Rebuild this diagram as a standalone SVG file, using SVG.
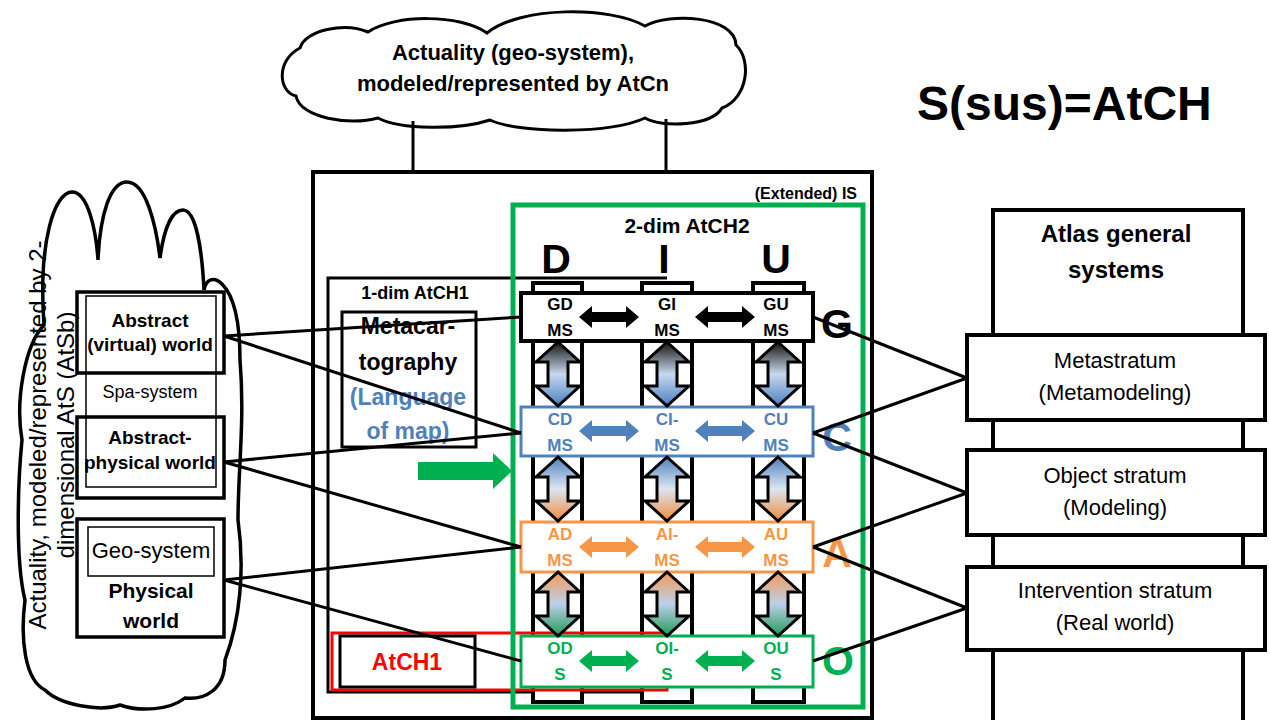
<svg xmlns="http://www.w3.org/2000/svg" width="1270" height="720" viewBox="0 0 1270 720">
<defs>
<style>
text{font-family:"Liberation Sans",Arial,sans-serif;}
.b{font-weight:bold;}
.big{font-size:41px;font-weight:bold;text-anchor:middle;}
.box{stroke:#000;fill:#fff;}
.conn line{stroke:#000;stroke-width:3;}
.mid{text-anchor:middle;}
.blue{fill:#4F81BD;}
.orange{fill:#F79646;}
.green{fill:#00B050;}
.va{stroke:#000;stroke-width:3;stroke-linejoin:miter;}
</style>
<linearGradient id="gGC" x1="0" y1="0" x2="0" y2="1">
<stop offset="0" stop-color="#111"/><stop offset="0.5" stop-color="#c8d8ee"/><stop offset="1" stop-color="#4a7ebf"/>
</linearGradient>
<linearGradient id="gCA" x1="0" y1="0" x2="0" y2="1">
<stop offset="0" stop-color="#4f81bd"/><stop offset="0.5" stop-color="#dde6f2"/><stop offset="1" stop-color="#f08a3a"/>
</linearGradient>
<linearGradient id="gAO" x1="0" y1="0" x2="0" y2="1">
<stop offset="0" stop-color="#f59a55"/><stop offset="0.5" stop-color="#bcd0ea"/><stop offset="1" stop-color="#1f9a55"/>
</linearGradient>
<path id="harrow" d="M-30,0 L-17,-11 L-17,-5 L17,-5 L17,-11 L30,0 L17,11 L17,5 L-17,5 L-17,11 Z"/>
<path id="varrow" d="M0,-32 L22,-12 L10,-12 L10,12 L22,12 L0,32 L-22,12 L-10,12 L-10,-12 L-22,-12 Z"/>
</defs>
<rect width="1270" height="720" fill="#fff"/>

<!-- top cloud -->
<g id="top-cloud">
<path d="M300,48 C305,30 345,22 368,32 C395,14 460,14 487,33 C520,6 610,6 645,26 C670,12 735,16 736,45 C752,60 748,98 722,108 C712,126 662,128 645,118 C610,134 520,134 490,120 C460,130 400,130 378,118 C350,126 300,118 296,96 C278,92 276,60 300,48 Z" fill="#fff" stroke="#000" stroke-width="3"/>
<text class="b mid" x="513" y="60" font-size="22">Actuality (geo-system),</text>
<text class="b mid" x="513" y="91" font-size="22">modeled/represented by AtCn</text>
</g>

<g id="title"><text class="b" x="917" y="120" font-size="48">S(sus)=AtCH</text></g>

<!-- left cloud -->
<g id="left-cloud">
<path d="M44,325 C38,240 55,192 72,192 C88,192 96,230 98,260 C100,215 110,182 127,182 C146,182 156,225 160,258 C164,228 172,210 183,210 C196,210 202,250 204,290 C206,279 214,276 222,284 C236,298 240,330 240,360 C245,420 238,470 238,520 C245,570 240,620 225,660 C225,690 205,700 185,698 C170,710 140,712 120,705 C100,712 60,705 45,690 C25,680 20,640 25,600 C15,560 18,480 22,440 C15,400 25,345 44,325 Z" fill="#fff" stroke="#000" stroke-width="3.5"/>
</g>

<g id="abstract-virtual">
<rect class="box" x="77" y="292" width="147" height="81" stroke-width="3.5"/>
<text class="b mid" x="150" y="327" font-size="19">Abstract</text>
<text class="b mid" x="150" y="351" font-size="19">(virtual) world</text>
</g>
<g id="abstract-physical">
<rect class="box" x="77" y="417" width="147" height="81" stroke-width="3.5"/>
<text class="b mid" x="150" y="444" font-size="19">Abstract-</text>
<text class="b mid" x="150" y="469" font-size="19">physical world</text>
</g>
<g id="spa-system">
<rect x="86" y="296" width="130" height="191" fill="none" stroke="#000" stroke-width="1.5"/>
<text class="mid" x="150" y="398" font-size="18">Spa-system</text>
</g>
<g id="physical-world">
<rect class="box" x="77" y="519" width="147" height="118" stroke-width="3.5"/>
<rect x="88" y="527" width="126" height="49" fill="#fff" stroke="#000" stroke-width="1.5"/>
<text class="mid" x="151" y="558" font-size="22">Geo-system</text>
<text class="b mid" x="151" y="598" font-size="21">Physical</text>
<text class="b mid" x="151" y="628" font-size="21">world</text>
</g>
<g id="left-cloud-label">
<text class="mid" transform="translate(46,435) rotate(-90)" font-size="24">Actuality, modeled/represented by 2-</text>
<text class="mid" transform="translate(74,435) rotate(-90)" font-size="24">dimensional AtS (AtSb)</text>
</g>

<!-- main IS box -->
<g id="extended-is">
<rect class="box" x="313" y="172" width="559" height="546" stroke-width="4"/>
<text class="b" x="857" y="199" font-size="16" text-anchor="end">(Extended) IS</text>
</g>
<g id="atch1-1dim">
<path d="M667,278 H328 V692 H667" fill="none" stroke="#000" stroke-width="3"/>
<text class="b mid" x="415" y="299" font-size="18">1-dim AtCH1</text>
</g>
<g id="metacartography">
<rect class="box" x="342" y="312" width="134" height="135" stroke-width="3"/>
<text class="b mid" x="408" y="334" font-size="23">Metacar-</text>
<text class="b mid" x="408" y="370" font-size="23">tography</text>
<text class="b mid blue" x="408" y="405" font-size="23">(Language</text>
<text class="b mid blue" x="408" y="439" font-size="23">of map)</text>
</g>

<g id="green-arrow"><path d="M418,462 L493,462 L493,453 L512,471 L493,489 L493,480 L418,480 Z" fill="#00B050"/></g>

<!-- columns -->
<g id="columns">
<rect class="box" x="533" y="283" width="49" height="419" stroke-width="4"/>
<rect class="box" x="642" y="283" width="50" height="419" stroke-width="4"/>
<rect class="box" x="753" y="283" width="51" height="419" stroke-width="4"/>
</g>

<g id="atch1-red">
<rect x="332" y="633" width="335" height="57" fill="none" stroke="#FF0000" stroke-width="3"/>
<rect class="box" x="340" y="636" width="135" height="51" stroke-width="3"/>
<text class="b mid" x="407" y="670" font-size="23" fill="#FF0000">AtCH1</text>
</g>

<g id="atch2">
<rect x="513" y="205" width="350" height="502" fill="none" stroke="#00B050" stroke-width="5"/>
<text class="b mid" x="687" y="233" font-size="21">2-dim AtCH2</text>
<text class="big" x="556" y="273">D</text>
<text class="big" x="664" y="273">I</text>
<text class="big" x="776" y="273">U</text>
</g>

<!-- rows -->
<g id="row-G">
<rect class="box" x="521" y="293" width="292" height="48" stroke-width="4"/>
<text class="b mid" x="560" y="310" font-size="17">GD</text><text class="b mid" x="560" y="336" font-size="17">MS</text>
<text class="b mid" x="667" y="310" font-size="17">GI</text><text class="b mid" x="667" y="336" font-size="17">MS</text>
<text class="b mid" x="776" y="310" font-size="17">GU</text><text class="b mid" x="776" y="336" font-size="17">MS</text>
<use href="#harrow" x="609" y="317" fill="#000"/>
<use href="#harrow" x="725" y="317" fill="#000"/>
<text class="big" x="837" y="338">G</text>
</g>
<g id="row-C">
<rect x="521" y="407" width="292" height="49" fill="#fff" stroke="#4F81BD" stroke-width="3"/>
<g class="blue">
<text class="b mid" x="560" y="425" font-size="17">CD</text><text class="b mid" x="560" y="451" font-size="17">MS</text>
<text class="b mid" x="667" y="425" font-size="17">CI-</text><text class="b mid" x="667" y="451" font-size="17">MS</text>
<text class="b mid" x="776" y="425" font-size="17">CU</text><text class="b mid" x="776" y="451" font-size="17">MS</text>
<use href="#harrow" x="609" y="431"/>
<use href="#harrow" x="725" y="431"/>
<text class="big" x="837" y="451">C</text>
</g>
</g>
<g id="row-A">
<rect x="521" y="522" width="292" height="50" fill="#fff" stroke="#F79646" stroke-width="3"/>
<g class="orange">
<text class="b mid" x="560" y="540" font-size="17">AD</text><text class="b mid" x="560" y="566" font-size="17">MS</text>
<text class="b mid" x="667" y="540" font-size="17">AI-</text><text class="b mid" x="667" y="566" font-size="17">MS</text>
<text class="b mid" x="776" y="540" font-size="17">AU</text><text class="b mid" x="776" y="566" font-size="17">MS</text>
<use href="#harrow" x="609" y="547"/>
<use href="#harrow" x="725" y="547"/>
<text class="big" x="837" y="567">A</text>
</g>
</g>
<g id="row-O">
<rect x="521" y="636" width="292" height="51" fill="#fff" stroke="#00B050" stroke-width="3"/>
<g class="green">
<text class="b mid" x="560" y="654" font-size="17">OD</text><text class="b mid" x="560" y="680" font-size="17">S</text>
<text class="b mid" x="667" y="654" font-size="17">OI-</text><text class="b mid" x="667" y="680" font-size="17">S</text>
<text class="b mid" x="776" y="654" font-size="17">OU</text><text class="b mid" x="776" y="680" font-size="17">S</text>
<use href="#harrow" x="609" y="661"/>
<use href="#harrow" x="725" y="661"/>
<text class="big" x="838" y="675">O</text>
</g>
</g>

<!-- vertical arrows -->
<g id="vertical-arrows">
<use href="#varrow" class="va" x="558" y="374" fill="url(#gGC)"/>
<use href="#varrow" class="va" x="667" y="374" fill="url(#gGC)"/>
<use href="#varrow" class="va" x="778" y="374" fill="url(#gGC)"/>
<use href="#varrow" class="va" x="558" y="489" fill="url(#gCA)"/>
<use href="#varrow" class="va" x="667" y="489" fill="url(#gCA)"/>
<use href="#varrow" class="va" x="778" y="489" fill="url(#gCA)"/>
<use href="#varrow" class="va" x="558" y="604" fill="url(#gAO)"/>
<use href="#varrow" class="va" x="667" y="604" fill="url(#gAO)"/>
<use href="#varrow" class="va" x="778" y="604" fill="url(#gAO)"/>
</g>

<!-- right side -->
<g id="atlas-general-systems">
<rect class="box" x="993" y="210" width="250" height="530" stroke-width="4"/>
<text class="b mid" x="1116" y="242" font-size="24">Atlas general</text>
<text class="b mid" x="1116" y="278" font-size="24">systems</text>
</g>
<g id="metastratum">
<rect class="box" x="967" y="335" width="298" height="85" stroke-width="4"/>
<text class="mid" x="1115" y="368" font-size="22">Metastratum</text>
<text class="mid" x="1115" y="400" font-size="22">(Metamodeling)</text>
</g>
<g id="object-stratum">
<rect class="box" x="967" y="450" width="298" height="85" stroke-width="4"/>
<text class="mid" x="1115" y="483" font-size="22">Object stratum</text>
<text class="mid" x="1115" y="515" font-size="22">(Modeling)</text>
</g>
<g id="intervention-stratum">
<rect class="box" x="967" y="567" width="298" height="83" stroke-width="4"/>
<text class="mid" x="1115" y="598" font-size="22">Intervention stratum</text>
<text class="mid" x="1115" y="630" font-size="22">(Real world)</text>
</g>

<!-- connectors -->
<g id="connectors" class="conn">
<line x1="413" y1="121" x2="413" y2="172"/>
<line x1="666" y1="119" x2="666" y2="172"/>
<line x1="224" y1="336" x2="521" y2="317"/>
<line x1="224" y1="336" x2="521" y2="433"/>
<line x1="224" y1="462" x2="521" y2="433"/>
<line x1="224" y1="462" x2="521" y2="547"/>
<line x1="224" y1="580" x2="521" y2="547"/>
<line x1="224" y1="580" x2="521" y2="661"/>
<line x1="813" y1="317" x2="967" y2="378"/>
<line x1="813" y1="433" x2="967" y2="378"/>
<line x1="813" y1="433" x2="967" y2="493"/>
<line x1="813" y1="547" x2="967" y2="493"/>
<line x1="813" y1="547" x2="967" y2="608"/>
<line x1="813" y1="661" x2="967" y2="608"/>
</g>
</svg>
